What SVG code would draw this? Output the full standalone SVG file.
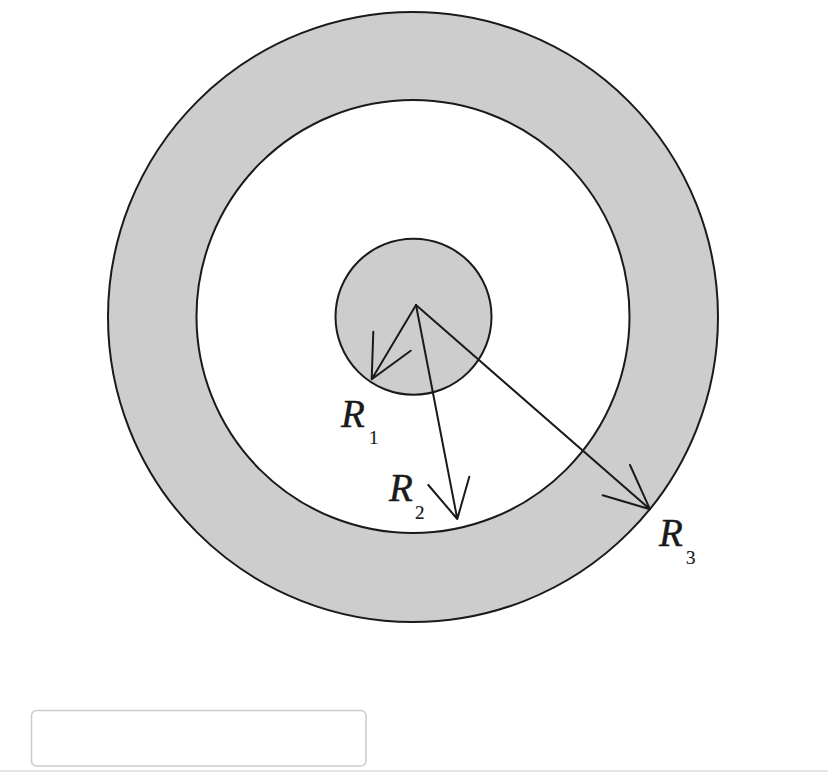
<svg xmlns="http://www.w3.org/2000/svg" width="828" height="773" viewBox="0 0 828 773">
<style>
.ring{stroke:#1a1a1a;stroke-width:2}
.arr{fill:none;stroke:#1a1a1a;stroke-width:2;stroke-linecap:round;stroke-linejoin:round}
.lbl{font-style:italic;font-size:39px;fill:#1a1a1a;stroke:#1a1a1a;stroke-width:0.4}
.sub{font-style:normal;font-size:19px;stroke-width:0.2}
</style>
<rect width="828" height="773" fill="#ffffff"/>
<g id="outer-circle"><circle class="ring" cx="413" cy="317" r="305" fill="#cdcdcd"/></g>
<g id="middle-circle"><circle class="ring" cx="413" cy="316.5" r="216.5" fill="#ffffff"/></g>
<g id="inner-circle"><circle class="ring" cx="413.5" cy="316.7" r="78" fill="#cdcdcd"/></g>
<g id="connectors">
<path class="arr" d="M416,305 L371.7,379.3 M373.3,331.7 L371.7,379.3 L410.7,350.7"/>
<path class="arr" d="M416,305 L457.3,519 M428.3,485 L457.3,519 L469.3,476.7"/>
<path class="arr" d="M416,305 L650,509.3 M630,465 L650,509.3 L602.7,495.3"/>
</g>
<g id="label-R1"><text class="lbl" font-family="'Liberation Serif', 'Times New Roman', Times, serif" x="341" y="427">R<tspan class="sub" x="369" y="444">1</tspan></text></g>
<g id="label-R2"><text class="lbl" font-family="'Liberation Serif', 'Times New Roman', Times, serif" x="389" y="501">R<tspan class="sub" x="415" y="519">2</tspan></text></g>
<g id="label-R3"><text class="lbl" font-family="'Liberation Serif', 'Times New Roman', Times, serif" x="659" y="546">R<tspan class="sub" x="686" y="564">3</tspan></text></g>
<g id="answer-box"><rect x="31.5" y="710.5" width="334.5" height="55.5" rx="5" fill="#ffffff" stroke="#cccccc" stroke-width="1.5"/></g>
<line x1="0" y1="771" x2="828" y2="771" stroke="#dddddd" stroke-width="1.5"/>
</svg>
